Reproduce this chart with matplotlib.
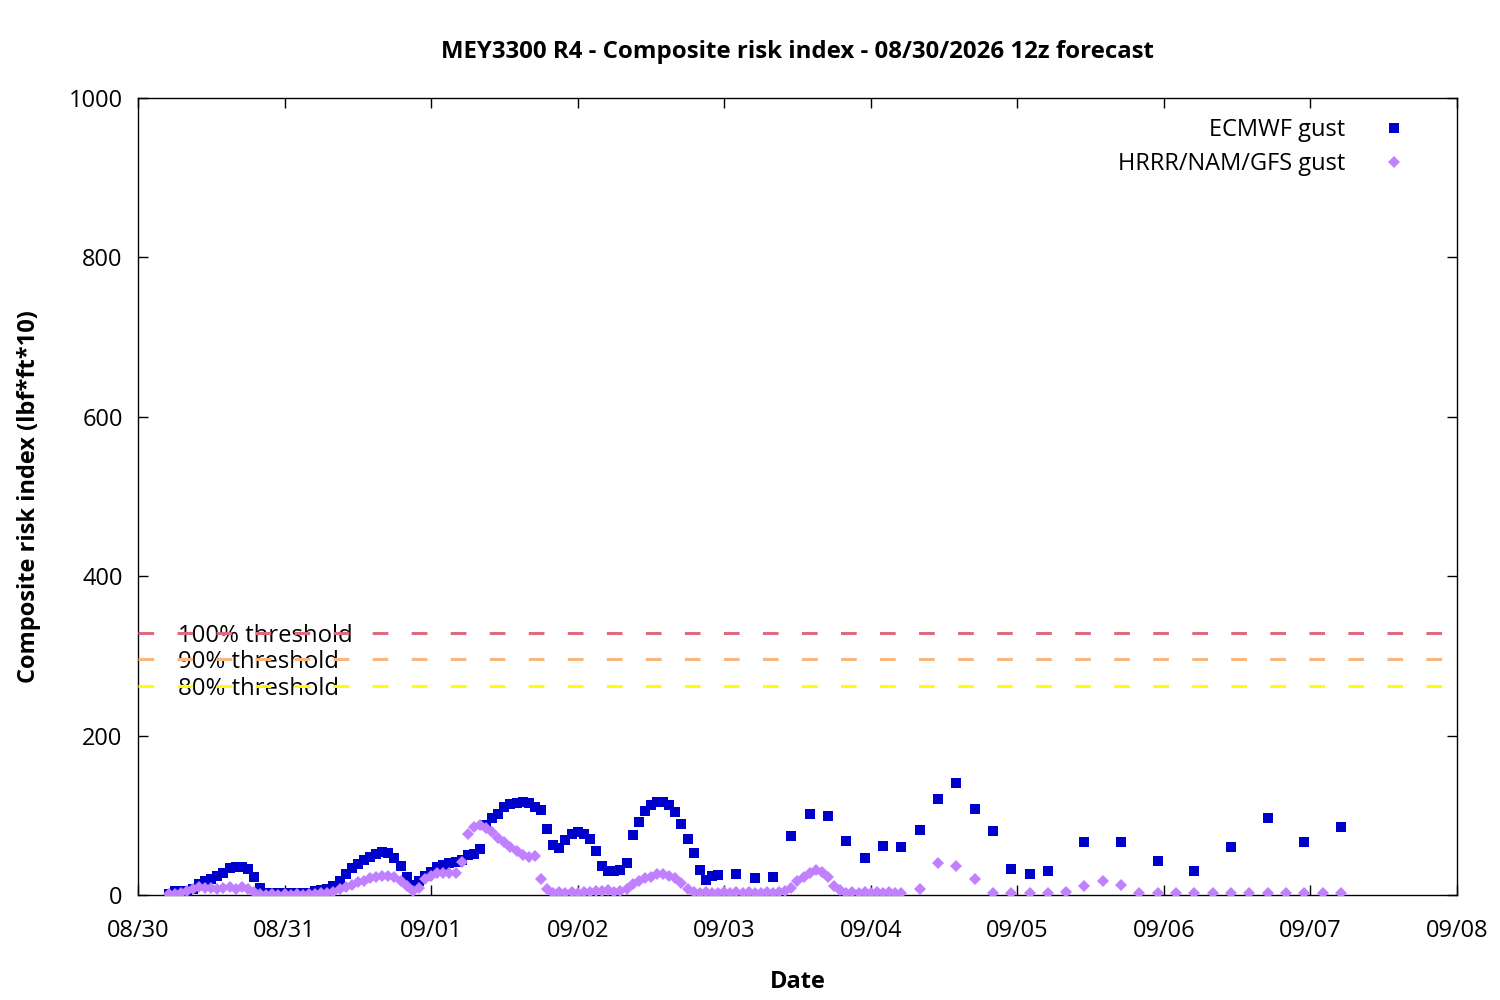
import matplotlib
matplotlib.use("Agg")
import matplotlib.pyplot as plt
import matplotlib.dates as mdates
from matplotlib.transforms import offset_copy
import numpy as np
import pandas as pd

plt.rcParams['font.family'] = ['Open Sans', 'DejaVu Sans']
plt.rcParams['lines.scale_dashes'] = False

# forecast start (local time) and hour steps of each series
start = pd.Timestamp("2026-08-30 05:00")

ecmwf_hours = list(range(0, 91)) + list(range(93, 145, 3)) + list(range(150, 193, 6))
ecmwf_gust = [
    1, 5, 5, 1, 8, 14, 18, 20, 24, 28, 34, 35, 35, 32, 22, 9,
    3, 2, 2, 2, 2, 2, 2, 3, 5, 6, 8, 11, 17, 26, 34, 39,
    44, 48, 51, 54, 53, 47, 37, 22, 13, 17, 24, 29, 35, 38, 40, 42,
    44, 50, 52, 58, 88, 96, 102, 110, 114, 116, 117, 116, 110, 107, 83, 63,
    59, 69, 76, 79, 77, 70, 55, 36, 30, 30, 31, 40, 75, 91, 106, 113,
    117, 117, 113, 104, 89, 70, 53, 31, 19, 24, 25,
    # 3-hourly
    26, 21, 22, 74, 102, 99, 68, 46, 62, 60, 82, 120, 141, 108, 80, 33, 26, 30,
    # 6-hourly
    66, 66, 43, 30, 60, 97, 66, 85,
]

multi_hours = list(range(0, 121)) + list(range(123, 193, 3))
multi_gust = [
    1, 1, 2, 5, 8, 10, 9, 9, 8, 9, 10, 8, 10, 7, 4, 1,
    0, 1, 0, 1, 0, 1, 0, 1, 1, 2, 3, 4, 7, 10, 13, 16,
    18, 21, 23, 24, 24, 22, 18, 11, 5, 9, 20, 24, 27, 28, 27, 27,
    42, 76, 85, 88, 84, 79, 71, 66, 60, 55, 50, 48, 49, 20, 8, 3,
    4, 3, 4, 3, 4, 4, 5, 5, 6, 4, 5, 8, 14, 17, 21, 23,
    26, 26, 24, 21, 15, 8, 4, 3, 4, 3, 3, 4, 3, 4, 3, 4,
    3, 3, 4, 3, 4, 5, 9, 18, 23, 28, 31, 29, 23, 11, 6, 3,
    4, 3, 4, 3, 4, 3, 4, 3, 3,
    # 3-hourly
    7, 40, 37, 20, 3, 3, 2, 3, 4, 11, 17, 12, 3, 3, 3, 2, 2, 2, 2, 2, 2, 2, 3, 3,
]

threshold_names = ["100% threshold", "90% threshold", "80% threshold"]
threshold_values = [328.5, 295.6, 262.8]
threshold_colors = ["#df6b7f", "#f7b77f", "#ffff00"]

t_ecmwf = start + pd.to_timedelta(ecmwf_hours, unit="h")
t_multi = start + pd.to_timedelta(multi_hours, unit="h")

fig = plt.figure(figsize=(15, 10), dpi=100)
ax = fig.add_axes([0.092, 0.105, 0.8793, 0.797])

x0 = pd.Timestamp("2026-08-30")
x1 = pd.Timestamp("2026-09-08")

label_tr = offset_copy(ax.get_yaxis_transform(), fig=fig, y=-3, units='dots')
for name, val, col in zip(threshold_names, threshold_values, threshold_colors):
    ax.plot([x0, x1], [val, val], color=col, lw=2.2, dashes=(11.3, 16.8), zorder=3)
    ax.text(0.0303, val, name, transform=label_tr, fontsize=17.2,
            va='center', ha='left', color='black', zorder=2)

ax.plot(t_ecmwf, ecmwf_gust, ls='none', marker='s', ms=6.8, mew=0, color='#0000cc',
        label='ECMWF gust', zorder=4)
ax.plot(t_multi, multi_gust, ls='none', marker='D', ms=6.5, mew=0, color='#c080ff',
        label='HRRR/NAM/GFS gust', zorder=4)

ax.set_xlim(x0, x1)
ax.set_ylim(0, 1000)
ax.set_yticks([0, 200, 400, 600, 800, 1000])
ax.xaxis.set_major_locator(mdates.DayLocator())
ax.xaxis.set_major_formatter(mdates.DateFormatter('%m/%d'))

ax.tick_params(direction='in', length=7, width=1, top=True, right=True, labelsize=17)
ax.tick_params(axis='x', pad=17)
ax.tick_params(axis='y', pad=11)
for sp in ax.spines.values():
    sp.set_linewidth(1)

ax.set_title("MEY3300 R4 - Composite risk index - 08/30/2026 12z forecast",
             fontsize=17.3, fontweight='bold', pad=28.5)
ax.set_xlabel("Date", fontsize=17, fontweight='bold', labelpad=19.5)
ax.set_ylabel("Composite risk index (lbf*ft*10)", fontsize=17, fontweight='bold', labelpad=20)

ax.legend(loc='upper right', markerfirst=False, frameon=False, fontsize=17,
          handlelength=1.0, handletextpad=1.57, borderaxespad=0, borderpad=0,
          labelspacing=0.4, bbox_to_anchor=(0.9613, 0.9745))

fig.savefig("out.png", dpi=100)
